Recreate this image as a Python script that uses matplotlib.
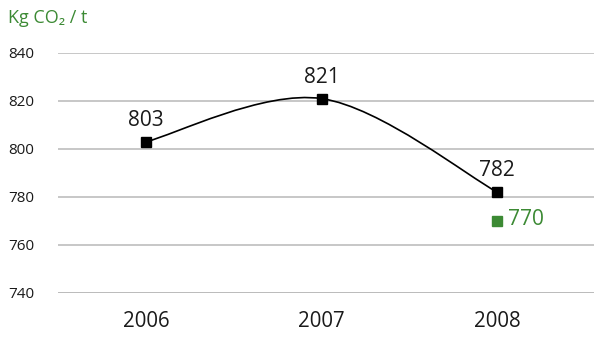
import matplotlib.pyplot as plt
from matplotlib.path import Path
from matplotlib.patches import PathPatch

years = ['2006', '2007', '2008']
emissions = [803, 821, 782]
target_value = 770
yticks = [740, 760, 780, 800, 820, 840]

green = '#3c8a34'

plt.rcParams['font.family'] = ['Open Sans', 'DejaVu Sans']

fig = plt.figure(figsize=(5.97, 3.45), dpi=100)
ax = fig.add_axes([58 / 597, 52 / 345, (594 - 58) / 597, 240 / 345])

x = list(range(len(years)))

# gridlines
for v in yticks[1:]:
    ax.axhline(v, color='#c3c3c3', lw=1.3, zorder=1)
ax.axhline(yticks[0], color='#a6a6a6', lw=1.8, zorder=1)

# smoothed line through the points (cubic Bezier segments)
pts = list(zip(x, emissions))
verts = [pts[0]]
codes = [Path.MOVETO]
for i in range(len(pts) - 1):
    p0 = pts[max(i - 1, 0)]
    p1 = pts[i]
    p2 = pts[i + 1]
    p3 = pts[min(i + 2, len(pts) - 1)]
    c1 = (p1[0] + (p2[0] - p0[0]) / 6, p1[1] + (p2[1] - p0[1]) / 6)
    c2 = (p2[0] - (p3[0] - p1[0]) / 6, p2[1] - (p3[1] - p1[1]) / 6)
    verts += [c1, c2, p2]
    codes += [Path.CURVE4] * 3
ax.add_patch(PathPatch(Path(verts, codes), facecolor='none', edgecolor='black', lw=1.2, zorder=2))

ax.plot(x, emissions, ls='none', marker='s', ms=7.5, color='black', zorder=3)
for xi, v in zip(x, emissions):
    ax.annotate(str(v), (xi, v), xytext=(0, 11.5), textcoords='offset points',
                ha='center', va='baseline', fontsize=15, color='#1a1a1a')

ax.plot([x[-1]], [target_value], ls='none', marker='s', ms=7, color=green, zorder=3)
ax.annotate(str(target_value), (x[-1], target_value), xytext=(7.5, 1), textcoords='offset points',
            ha='left', va='center', fontsize=15, color=green)

ax.set_xlim(-0.5, 2.55)
ax.set_ylim(740, 840)
ax.set_xticks(x)
ax.set_xticklabels(years, fontsize=14.8, color='#1a1a1a')
ax.set_yticks(yticks)
ax.set_yticklabels([str(v) for v in yticks], fontsize=11, color='#1a1a1a')
ax.tick_params(length=0)
ax.tick_params(axis='y', pad=17)
ax.tick_params(axis='x', pad=13)
for s in ax.spines.values():
    s.set_visible(False)

fig.text(8 / 597, 1 - 18 / 345, 'Kg CO₂ / t', color=green, fontsize=13, va='center', ha='left')

fig.savefig('out.png', dpi=100)
